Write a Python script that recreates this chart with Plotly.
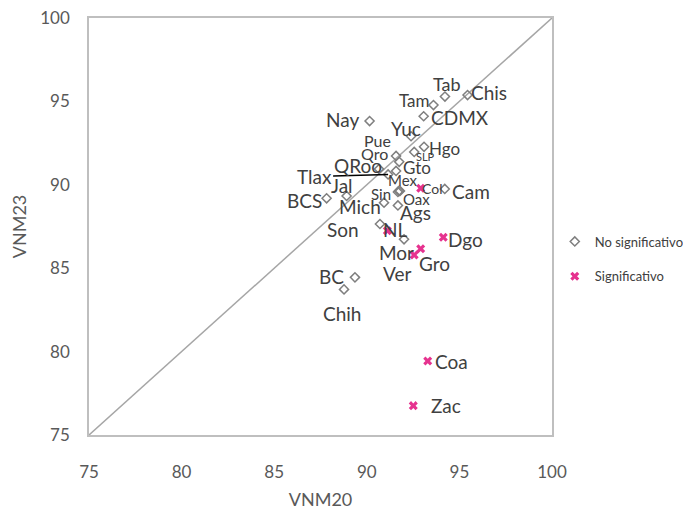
import plotly.graph_objects as go

# VNM20 vs VNM23 by state
no_sig_states = ["Tab", "Chis", "Tam", "CDMX", "Nay", "Yuc", "Hgo", "SLP", "Pue", "Qro",
                 "Gto", "Tlax", "QRoo", "Mex", "Sin", "Oax", "Mich", "Ags", "Jal", "BCS",
                 "Cam", "Son", "Ver", "BC", "Chih"]
no_sig_vnm20 = [94.22, 95.44, 93.60, 93.07, 90.15, 92.39, 93.09, 92.56, 91.58, 91.75,
                91.58, 91.15, 90.66, 91.74, 91.68, 91.79, 90.93, 91.68, 88.91, 87.83,
                94.21, 90.71, 92.01, 89.36, 88.77]
no_sig_vnm23 = [95.29, 95.38, 94.78, 94.11, 93.82, 92.91, 92.28, 91.97, 91.73, 91.38,
                90.83, 90.62, 90.95, 89.63, 89.57, 89.63, 88.93, 88.76, 89.33, 89.19,
                89.75, 87.65, 86.73, 84.45, 83.73]

sig_states = ["Col", "NL", "Dgo", "Gro", "Mor", "Coa", "Zac"]
sig_vnm20 = [92.91, 91.11, 94.13, 92.91, 92.56, 93.29, 92.51]
sig_vnm23 = [89.79, 87.25, 86.85, 86.17, 85.79, 79.44, 76.76]

axis_min, axis_max = 75, 100

# label placement: (dx, dy) pixel offset from the marker, font size
label_style = {
    "Tab": (2, -13, 18), "Chis": (21, -3, 19), "Tam": (-19, -5, 17), "CDMX": (36, 1, 19),
    "Nay": (-27, -2, 19), "Yuc": (-5, -8, 19), "Hgo": (20, 2, 17), "SLP": (11, 5, 11),
    "Pue": (-19, -15, 16), "Qro": (-25, -8, 16), "Gto": (21, -3, 17), "Tlax": (-74, 2, 19),
    "QRoo": (-21, -3, 19), "Mex": (4, -11, 15), "Sin": (-17, 2, 15), "Oax": (17, 8, 15),
    "Mich": (-24, 4, 19), "Ags": (18, 7, 19), "Jal": (-5, -10, 19), "BCS": (-22, 2, 19),
    "Cam": (26, 3, 19), "Son": (-37, 5, 19), "Ver": (-7, 34, 19), "BC": (-23, -1, 19),
    "Chih": (-2, 24, 19),
    "Col": (11, 0, 14), "NL": (8, -1, 19), "Dgo": (22, 2, 19), "Gro": (14, 15, 19),
    "Mor": (-18, -3, 19), "Coa": (24, 1, 19), "Zac": (33, 0, 19),
}

GREY = "#7f7f7f"
PINK = "#e6338f"
TEXT = "#404040"
FONT = "Lato, 'Open Sans', sans-serif"

fig = go.Figure()

fig.add_trace(go.Scatter(
    x=[axis_min, axis_max], y=[axis_min, axis_max], mode="lines",
    line=dict(color="#a6a6a6", width=1.5), showlegend=False, hoverinfo="skip",
))
fig.add_trace(go.Scatter(
    x=no_sig_vnm20, y=no_sig_vnm23, mode="markers", name="No significativo",
    text=no_sig_states, legendgroup="a",
    marker=dict(symbol="diamond-open", size=7, color=GREY, line=dict(width=1.5, color=GREY)),
))
fig.add_trace(go.Scatter(
    x=sig_vnm20, y=sig_vnm23, mode="markers", name="Significativo",
    text=sig_states, legendgroup="b",
    marker=dict(symbol="x", size=8, color=PINK, line=dict(width=0)),
))

for names, xs, ys in [(no_sig_states, no_sig_vnm20, no_sig_vnm23),
                      (sig_states, sig_vnm20, sig_vnm23)]:
    for name, x, y in zip(names, xs, ys):
        dx, dy, size = label_style[name]
        if name == "Tlax":
            fig.add_annotation(
                x=x, y=y, text=name, showarrow=True, ax=dx, ay=dy,
                arrowhead=0, arrowwidth=1.5, arrowcolor="black", standoff=0,
                font=dict(size=size, color=TEXT, family=FONT),
            )
        else:
            fig.add_annotation(
                x=x, y=y, text=name, showarrow=False, xshift=dx, yshift=-dy,
                font=dict(size=size, color=TEXT, family=FONT),
            )

axis_style = dict(
    range=[axis_min, axis_max], dtick=5, showgrid=False, zeroline=False,
    showline=True, linecolor="#bfbfbf", linewidth=1.5, mirror=True, ticks="",
    tickfont=dict(size=17, color="#595959", family=FONT), automargin=False,
    ticklabeloverflow="allow",
)
fig.update_xaxes(**axis_style, ticklabelstandoff=21,
                 title=dict(text="VNM20", font=dict(size=18, color="#595959", family=FONT), standoff=12))
fig.update_yaxes(**axis_style, ticklabelstandoff=14,
                 title=dict(text="VNM23", font=dict(size=18, color="#595959", family=FONT), standoff=20))

# the page body adds an 8px margin, so the figure is 8px smaller than the window
fig.update_layout(
    width=683, height=507,
    margin=dict(l=81, r=139, t=10, b=80, autoexpand=False),
    plot_bgcolor="white", paper_bgcolor="white",
    font=dict(family=FONT, color=TEXT),
    legend=dict(x=1.006, y=0.5, xanchor="left", yanchor="top",
                font=dict(size=13, color=TEXT, family=FONT), tracegroupgap=15,
                bgcolor="rgba(0,0,0,0)"),
    hovermode="closest",
)

fig.write_html("out.html")
